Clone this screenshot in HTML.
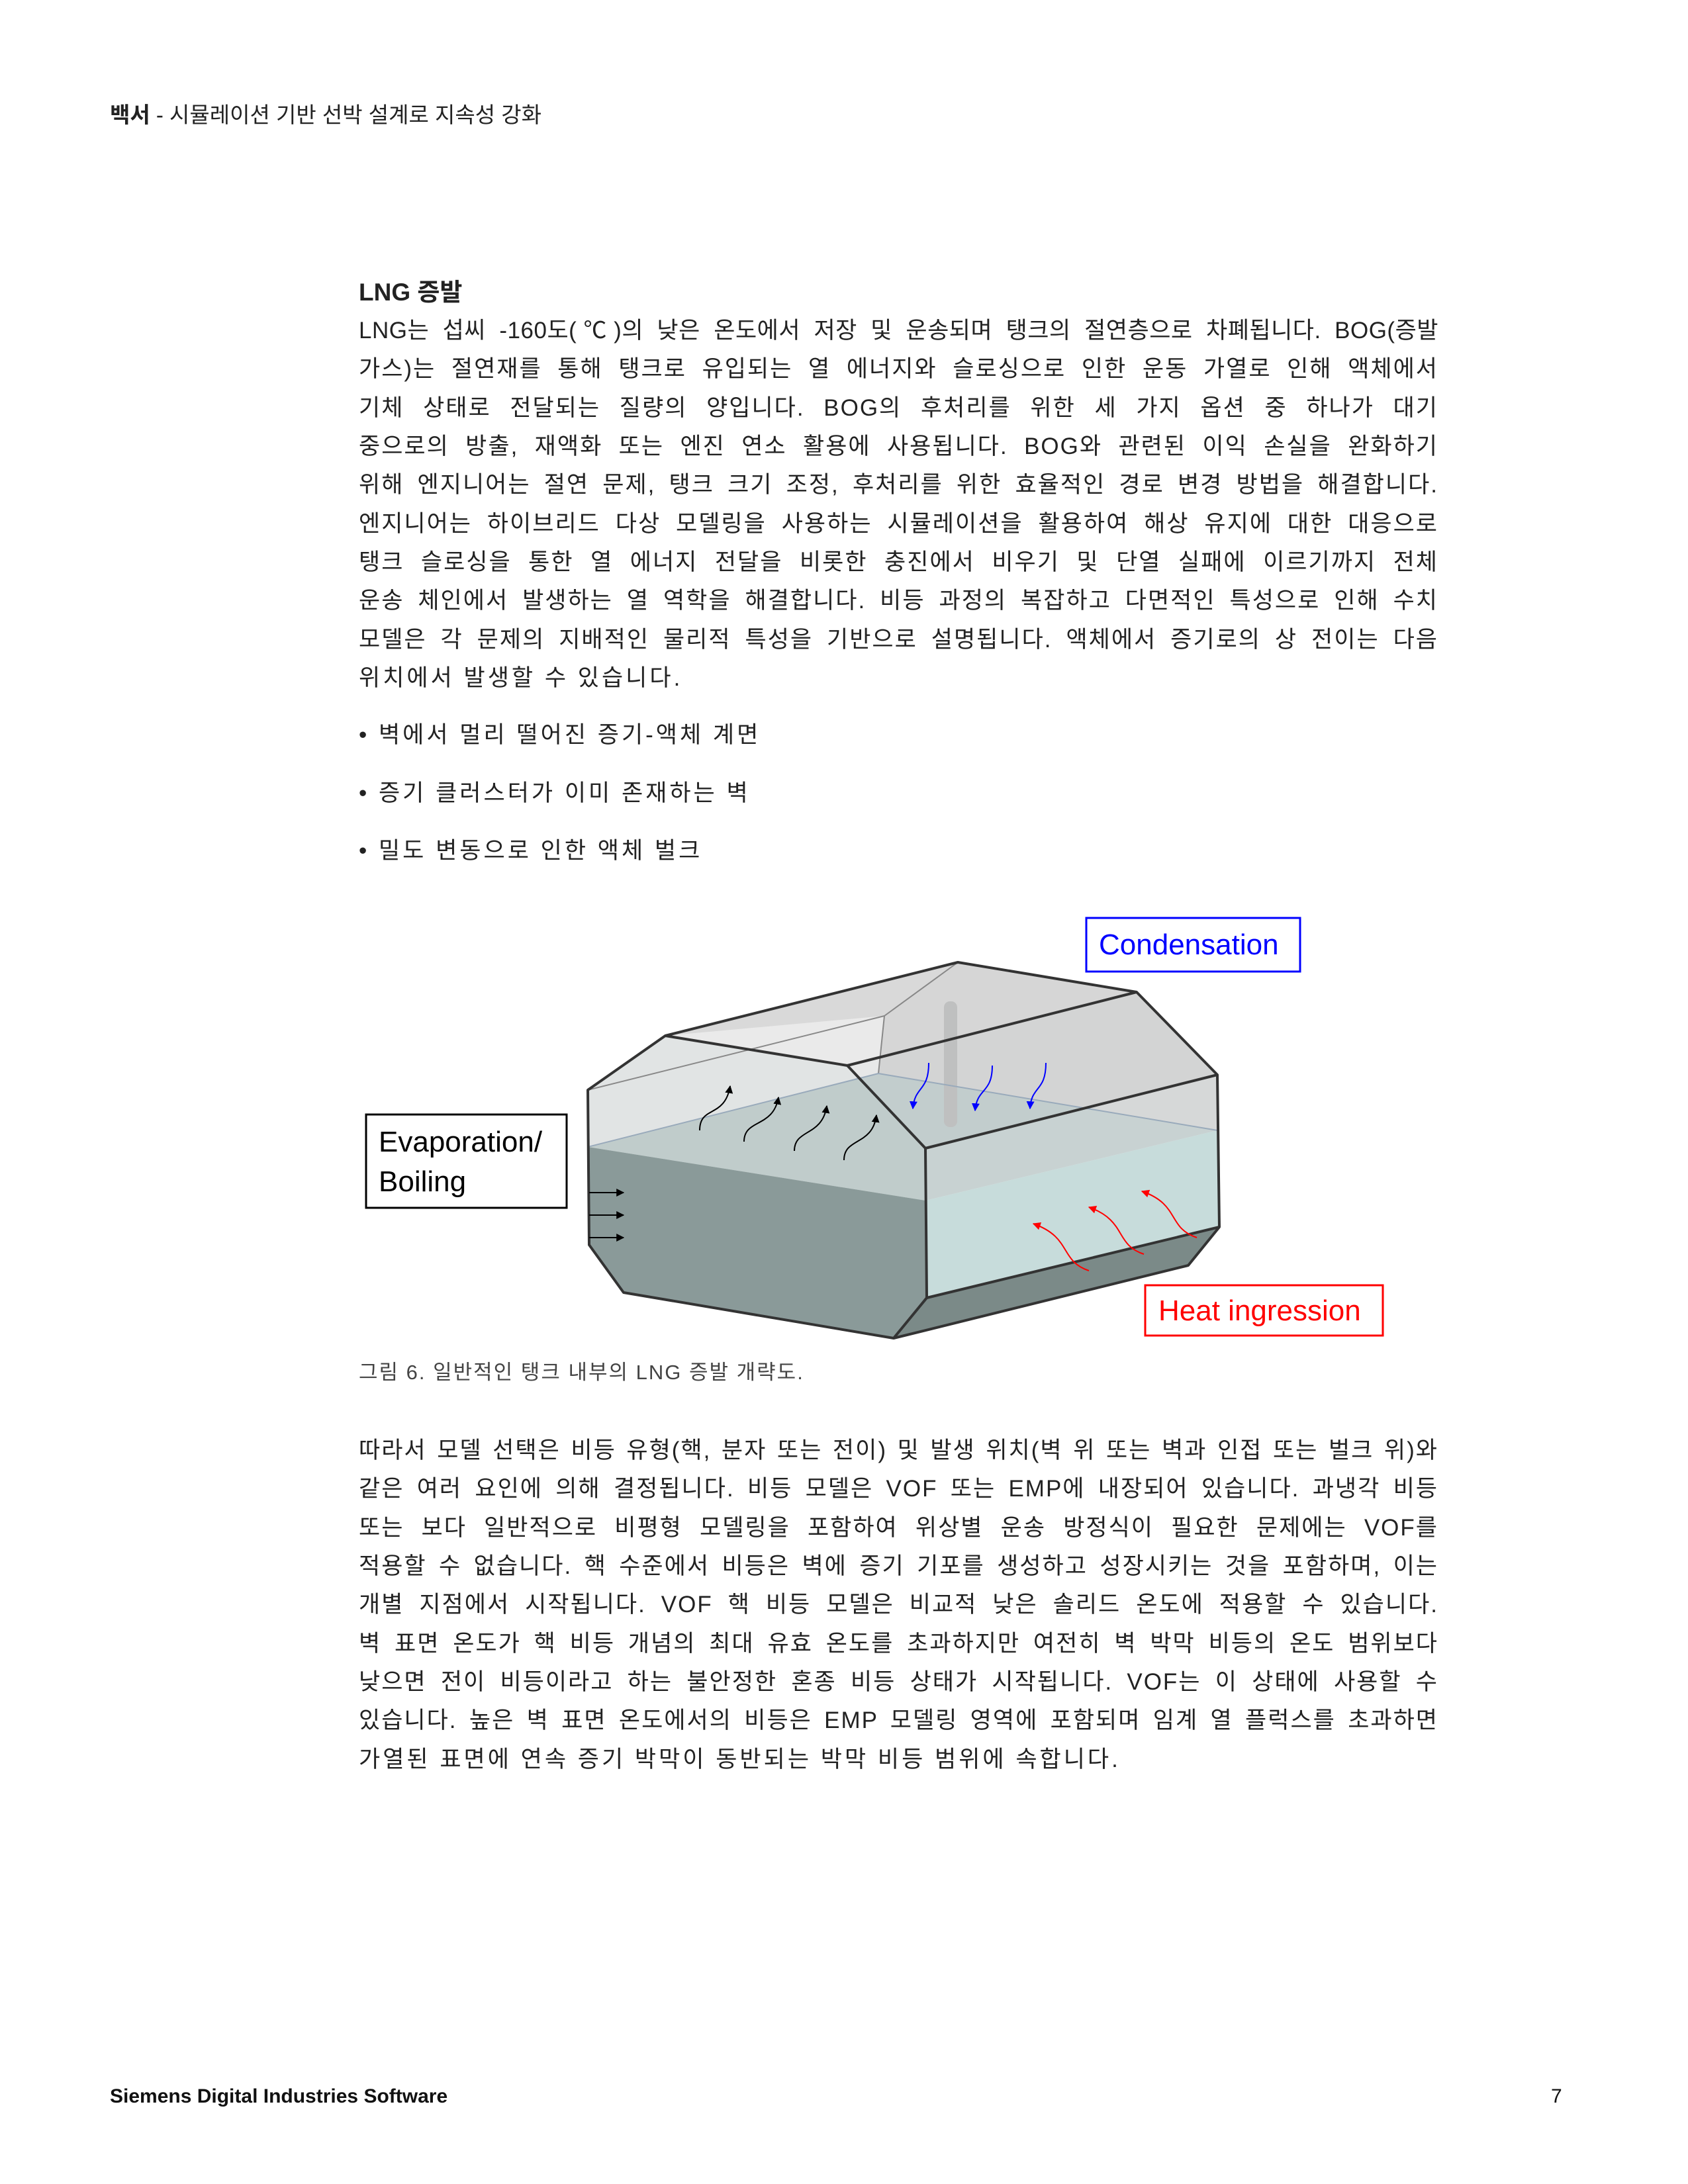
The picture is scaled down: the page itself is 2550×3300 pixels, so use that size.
<!DOCTYPE html>
<html><head><meta charset="utf-8">
<style>
body{margin:0;background:#fff;}
#p{position:relative;width:2550px;height:3300px;overflow:hidden;background:#fff;color:#222;font-family:"Liberation Sans","Noto Sans CJK KR",sans-serif;}
.a{position:absolute;white-space:nowrap;line-height:1;}
.l{position:absolute;left:542px;width:1631px;font-size:35px;letter-spacing:2px;line-height:1;text-align:justify;text-align-last:justify;white-space:nowrap;color:#222;}
.b{font-size:35px;letter-spacing:4px;}
</style></head><body><div id="p">
<div class="a" style="left:166px;top:157px;font-size:33px;"><b>백서</b> - 시뮬레이션 기반 선박 설계로 지속성 강화</div>
<div class="a" style="left:542px;top:423px;font-size:37px;font-weight:bold;">LNG 증발</div>

<div class="l" style="top:482px;letter-spacing:0.5px">LNG는 섭씨 -160도(℃)의 낮은 온도에서 저장 및 운송되며 탱크의 절연층으로 차폐됩니다. BOG(증발</div>
<div class="l" style="top:540px">가스)는 절연재를 통해 탱크로 유입되는 열 에너지와 슬로싱으로 인한 운동 가열로 인해 액체에서</div>
<div class="l" style="top:599px">기체 상태로 전달되는 질량의 양입니다. BOG의 후처리를 위한 세 가지 옵션 중 하나가 대기</div>
<div class="l" style="top:657px">중으로의 방출, 재액화 또는 엔진 연소 활용에 사용됩니다. BOG와 관련된 이익 손실을 완화하기</div>
<div class="l" style="top:715px">위해 엔지니어는 절연 문제, 탱크 크기 조정, 후처리를 위한 효율적인 경로 변경 방법을 해결합니다.</div>
<div class="l" style="top:774px">엔지니어는 하이브리드 다상 모델링을 사용하는 시뮬레이션을 활용하여 해상 유지에 대한 대응으로</div>
<div class="l" style="top:832px">탱크 슬로싱을 통한 열 에너지 전달을 비롯한 충진에서 비우기 및 단열 실패에 이르기까지 전체</div>
<div class="l" style="top:890px">운송 체인에서 발생하는 열 역학을 해결합니다. 비등 과정의 복잡하고 다면적인 특성으로 인해 수치</div>
<div class="l" style="top:949px">모델은 각 문제의 지배적인 물리적 특성을 기반으로 설명됩니다. 액체에서 증기로의 상 전이는 다음</div>
<div class="a b" style="left:542px;top:1007px;">위치에서 발생할 수 있습니다.</div>

<div class="a b" style="left:542px;top:1093px;">• 벽에서 멀리 떨어진 증기-액체 계면</div>
<div class="a b" style="left:542px;top:1181px;">• 증기 클러스터가 이미 존재하는 벽</div>
<div class="a b" style="left:542px;top:1268px;">• 밀도 변동으로 인한 액체 벌크</div>

<svg class="a" style="left:0;top:0" width="2550" height="3300" viewBox="0 0 2550 3300">
<defs>
<marker id="mk" viewBox="0 0 10 10" refX="9" refY="5" markerWidth="6" markerHeight="6" orient="auto"><path d="M0,0L10,5L0,10z" fill="#000"/></marker>
<marker id="mb" viewBox="0 0 10 10" refX="9" refY="5" markerWidth="6" markerHeight="6" orient="auto"><path d="M0,0L10,5L0,10z" fill="#0000ff"/></marker>
<marker id="mr" viewBox="0 0 10 10" refX="9" refY="5" markerWidth="6" markerHeight="6" orient="auto"><path d="M0,0L10,5L0,10z" fill="#ff0000"/></marker>
</defs>
<polygon points="1005,1565 1447,1454 1717,1499 1839,1624 1839,1708 1327,1622 1336,1535" fill="#dcdddd"/>
<polygon points="1336,1535 1447,1454 1717,1499 1839,1624 1839,1708 1327,1622" fill="#d6d7d7"/>
<polygon points="888,1733 1327,1622 1839,1708 1398,1814" fill="#b5c9c8"/>
<polygon points="888,1647 1005,1565 1280,1610 1398,1735 1398,1814 888,1733" fill="#c9cdcd" opacity="0.55"/>
<polygon points="888,1733 1398,1814 1400,1961 1350,2022 942,1953 890,1881" fill="#8a9a99"/>
<polygon points="1398,1814 1839,1708 1842,1854 1400,1961" fill="#c7dcdb"/>
<polygon points="1398,1735 1839,1624 1839,1708 1398,1814" fill="#d6d8d8" opacity="0.6"/>
<polygon points="1400,1961 1842,1854 1795,1912 1350,2022" fill="#7b8a88"/>
<polygon points="1005,1565 1447,1454 1717,1499 1280,1610" fill="#d5d6d6" opacity="0.5"/>
<polygon points="1280,1610 1717,1499 1839,1624 1398,1735" fill="#d0d1d1" opacity="0.5"/>
<rect x="1426" y="1513" width="20" height="190" rx="9" fill="#bfc0c0"/>
<g stroke="#555" stroke-width="3" fill="none">
<polyline points="1336,1535 1327,1622" stroke="#888" stroke-width="2"/>
<polyline points="1336,1535 1447,1454" stroke-width="2" stroke="#888"/>
<polyline points="888,1647 1336,1535" stroke-width="2" stroke="#888"/>
<polyline points="1327,1622 1839,1708" stroke="#9ab" stroke-width="2"/>
<polyline points="888,1733 1327,1622" stroke="#9ab" stroke-width="2"/>
</g>
<g stroke="#333" stroke-width="4" fill="none" stroke-linejoin="round">
<polygon points="888,1647 1005,1565 1447,1454 1717,1499 1839,1624 1842,1854 1795,1912 1350,2022 942,1953 890,1881"/>
<polyline points="1005,1565 1280,1610 1398,1735 1400,1961 1350,2022"/>
<polyline points="1280,1610 1717,1499"/>
<polyline points="1398,1735 1839,1624"/>
<polyline points="1400,1961 1842,1854"/>
</g>
<g stroke="#000" stroke-width="2" fill="none" marker-end="url(#mk)">
<path d="M890,1802H942"/><path d="M890,1836H942"/><path d="M890,1870H942"/>
<path d="M1057,1708C1057,1670 1095,1690 1103,1641"/>
<path d="M1124,1725C1124,1690 1168,1705 1176,1658"/>
<path d="M1200,1739C1200,1705 1242,1718 1249,1671"/>
<path d="M1275,1753C1275,1718 1318,1732 1324,1685"/>
</g>
<g stroke="#0000ff" stroke-width="2" fill="none" marker-end="url(#mb)">
<path d="M1403,1606C1403,1650 1382,1640 1379,1675"/>
<path d="M1499,1610C1499,1653 1476,1643 1473,1678"/>
<path d="M1580,1606C1580,1650 1558,1640 1556,1675"/>
</g>
<g stroke="#ff0000" stroke-width="2" fill="none" marker-end="url(#mr)">
<path d="M1645,1920C1600,1905 1620,1870 1561,1849"/>
<path d="M1728,1895C1683,1880 1703,1845 1645,1824"/>
<path d="M1808,1870C1763,1855 1783,1820 1725,1800"/>
</g>
<rect x="553" y="1684" width="303" height="141" fill="#fff" stroke="#000" stroke-width="3"/>
<text x="572" y="1740" font-family="Liberation Sans,sans-serif" font-size="44" fill="#000">Evaporation/</text>
<text x="572" y="1800" font-family="Liberation Sans,sans-serif" font-size="44" fill="#000">Boiling</text>
<rect x="1641" y="1387" width="323" height="81" fill="#fff" stroke="#0000ff" stroke-width="3"/>
<text x="1660" y="1442" font-family="Liberation Sans,sans-serif" font-size="44" fill="#0000ff">Condensation</text>
<rect x="1730" y="1942" width="359" height="76" fill="#fff" stroke="#ff0000" stroke-width="3"/>
<text x="1750" y="1995" font-family="Liberation Sans,sans-serif" font-size="44" fill="#ff0000">Heat ingression</text>
</svg>

<div class="a" style="left:542px;top:2058px;font-size:31px;letter-spacing:2px;color:#444;">그림 6. 일반적인 탱크 내부의 LNG 증발 개략도.</div>

<div class="l" style="top:2174px">따라서 모델 선택은 비등 유형(핵, 분자 또는 전이) 및 발생 위치(벽 위 또는 벽과 인접 또는 벌크 위)와</div>
<div class="l" style="top:2232px">같은 여러 요인에 의해 결정됩니다. 비등 모델은 VOF 또는 EMP에 내장되어 있습니다. 과냉각 비등</div>
<div class="l" style="top:2291px">또는 보다 일반적으로 비평형 모델링을 포함하여 위상별 운송 방정식이 필요한 문제에는 VOF를</div>
<div class="l" style="top:2349px">적용할 수 없습니다. 핵 수준에서 비등은 벽에 증기 기포를 생성하고 성장시키는 것을 포함하며, 이는</div>
<div class="l" style="top:2407px">개별 지점에서 시작됩니다. VOF 핵 비등 모델은 비교적 낮은 솔리드 온도에 적용할 수 있습니다.</div>
<div class="l" style="top:2466px">벽 표면 온도가 핵 비등 개념의 최대 유효 온도를 초과하지만 여전히 벽 박막 비등의 온도 범위보다</div>
<div class="l" style="top:2524px">낮으면 전이 비등이라고 하는 불안정한 혼종 비등 상태가 시작됩니다. VOF는 이 상태에 사용할 수</div>
<div class="l" style="top:2582px">있습니다. 높은 벽 표면 온도에서의 비등은 EMP 모델링 영역에 포함되며 임계 열 플럭스를 초과하면</div>
<div class="a b" style="left:542px;top:2641px;">가열된 표면에 연속 증기 박막이 동반되는 박막 비등 범위에 속합니다.</div>

<div class="a" style="left:166px;top:3153px;font-size:30px;font-weight:bold;color:#111;">Siemens Digital Industries Software</div>
<div class="a" style="left:2343px;top:3153px;font-size:30px;color:#111;">7</div>
</div></body></html>
